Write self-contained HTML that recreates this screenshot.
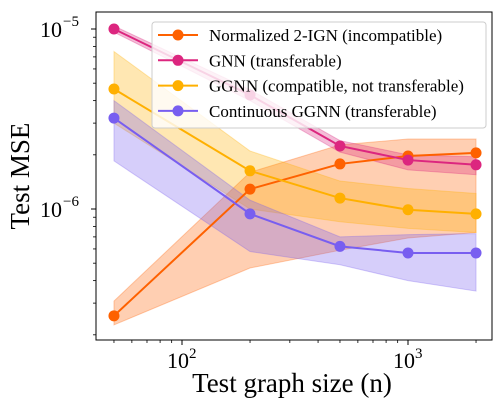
<!DOCTYPE html>
<html><head><meta charset="utf-8">
<style>
html,body{margin:0;padding:0;background:#fff;}
svg{display:block;}
svg text{font-family:"Liberation Serif","DejaVu Serif",serif;}
</style></head>
<body>
<svg id="chart" width="500" height="400" viewBox="0 0 500 400" xmlns="http://www.w3.org/2000/svg"></svg>
<script>
const sizes = [50, 200, 500, 1000, 2000];
const seriesNames = ["Normalized 2-IGN (incompatible)", "GNN (transferable)", "GGNN (compatible, not transferable)", "Continuous GGNN (transferable)"];
const seriesColors = ["#fe6100", "#dc267f", "#ffb000", "#785ef0"];
const ignMean = [2.55e-7, 1.29e-6, 1.78e-6, 1.97e-6, 2.05e-6];
const ignUpper = [3.08e-7, 1.6e-6, 2.27e-6, 2.45e-6, 2.45e-6];
const ignLower = [2.27e-7, 4.7e-7, 5.9e-7, 6.9e-7, 7.4e-7];
const gnnMean = [1.0e-5, 4.3e-6, 2.24e-6, 1.87e-6, 1.76e-6];
const gnnUpper = [1.04e-5, 4.6e-6, 2.4e-6, 2.0e-6, 1.95e-6];
const gnnLower = [0.96e-5, 4.0e-6, 2.07e-6, 1.65e-6, 1.55e-6];
const ggnnMean = [4.64e-6, 1.63e-6, 1.15e-6, 9.9e-7, 9.4e-7];
const ggnnUpper = [7.5e-6, 2.1e-6, 1.43e-6, 1.3e-6, 1.22e-6];
const ggnnLower = [3.0e-6, 1.0e-6, 8.5e-7, 7.8e-7, 7.4e-7];
const cggnnMean = [3.2e-6, 9.4e-7, 6.2e-7, 5.7e-7, 5.7e-7];
const cggnnUpper = [4.0e-6, 1.12e-6, 7.0e-7, 7.2e-7, 7.3e-7];
const cggnnLower = [1.85e-6, 5.8e-7, 4.9e-7, 4.0e-7, 3.5e-7];
const xTickVals = [100, 1000];
const xTickLabels = ["2", "3"];
const yTickVals = [1e-6, 1e-5];
const yTickLabels = ["−6", "−5"];

const means = [ignMean, gnnMean, ggnnMean, cggnnMean];
const uppers = [ignUpper, gnnUpper, ggnnUpper, cggnnUpper];
const lowers = [ignLower, gnnLower, ggnnLower, cggnnLower];

const FONT = '"Liberation Serif", "DejaVu Serif", serif';
const L = 96, R = 492, T = 12, B = 340;
function xs(v){ return 182 + (Math.log10(v) - 2) * 226; }
function ys(v){ return 29 + (-5 - Math.log10(v)) * 180; }

const svg = document.getElementById('chart');
const NS = "http://www.w3.org/2000/svg";
function mk(tag, attrs, parent){
  const e = document.createElementNS(NS, tag);
  for (const k in attrs) e.setAttribute(k, attrs[k]);
  if (tag === 'text') e.setAttribute('font-family', FONT);
  (parent || svg).appendChild(e);
  return e;
}

const bands = mk('g', {});


for (let s = 0; s < 4; s++){
  let d = "";
  sizes.forEach((n,i)=>{ d += (i?"L":"M") + xs(n) + "," + ys(uppers[s][i]); });
  for (let i = sizes.length-1; i >= 0; i--) d += "L" + xs(sizes[i]) + "," + ys(lowers[s][i]);
  d += "Z";
  const p = mk('path', {d: d, fill: seriesColors[s], 'fill-opacity': 0.3, stroke: seriesColors[s], 'stroke-opacity': 0.3, 'stroke-width': 1}, bands);
  
  
}
for (let s = 0; s < 4; s++){
  const g = mk('g', {});
  
  
  const pts = sizes.map((n,i)=> xs(n) + "," + ys(means[s][i])).join(" ");
  const pl = mk('polyline', {points: pts, fill: 'none', stroke: seriesColors[s], 'stroke-width': 2}, g);
  
  
  sizes.forEach((n,i)=>{
    const c = mk('circle', {cx: xs(n), cy: ys(means[s][i]), r: 5.5, fill: seriesColors[s]}, g);
    
    
  });
}
const frame = mk('rect', {x: L, y: T, width: R-L, height: B-T, fill: 'none', stroke: '#000', 'stroke-width': 1});



const xax = mk('g', {});


for (let d = 1; d <= 3; d++){
  for (let m = 1; m <= 9; m++){
    const v = m * Math.pow(10, d);
    const x = xs(v);
    if (x < L || x > R) continue;
    const major = m === 1;
    mk('line', {x1: x, x2: x, y1: B, y2: B + (major ? 5 : 3), stroke: '#000', 'stroke-width': major ? 1 : 0.8}, xax);
  }
}
xTickVals.forEach((v,i)=>{
  const t = mk('text', {x: xs(v) - 4, y: B + 28, 'text-anchor': 'middle', 'font-size': 22}, xax);
  
  
  t.textContent = "10";
  const sup = mk('text', {x: xs(v) + 7, y: B + 18, 'font-size': 15}, xax);
  sup.textContent = xTickLabels[i];
});
const xt = mk('text', {x: 292, y: 392, 'text-anchor': 'middle', 'font-size': 27});


xt.textContent = "Test graph size (n)";

const yax = mk('g', {});


for (let d = -8; d <= -5; d++){
  for (let m = 1; m <= 9; m++){
    const v = m * Math.pow(10, d);
    const y = ys(v);
    if (y < T || y > B) continue;
    const major = m === 1;
    mk('line', {x1: L, x2: L - (major ? 5 : 3), y1: y, y2: y, stroke: '#000', 'stroke-width': major ? 1 : 0.8}, yax);
  }
}
yTickVals.forEach((v,i)=>{
  const t = mk('text', {x: 62, y: ys(v) + 8, 'text-anchor': 'end', 'font-size': 22}, yax);
  
  
  t.textContent = "10";
  const sup = mk('text', {x: 63, y: ys(v) - 3, 'font-size': 15}, yax);
  sup.textContent = yTickLabels[i];
});
const yt = mk('text', {x: 0, y: 0, 'text-anchor': 'middle', 'font-size': 27, transform: 'translate(29,176) rotate(-90)'});


yt.textContent = "Test MSE";

const lg = mk('g', {});


mk('rect', {x: 152, y: 22, width: 334, height: 106, rx: 3, fill: '#fff', 'fill-opacity': 0.8, stroke: '#ccc', 'stroke-width': 1}, lg);
seriesNames.forEach((name, i)=>{
  const y = 35 + i * 25.3;
  const e = mk('g', {}, lg);
  
  
  mk('line', {x1: 158, x2: 198, y1: y, y2: y, stroke: seriesColors[i], 'stroke-width': 2}, e);
  mk('circle', {cx: 178, cy: y, r: 5.5, fill: seriesColors[i]}, e);
  const t = mk('text', {x: 209, y: y + 6, 'font-size': 17}, e);
  t.textContent = name;
});
</script>
</body></html>
